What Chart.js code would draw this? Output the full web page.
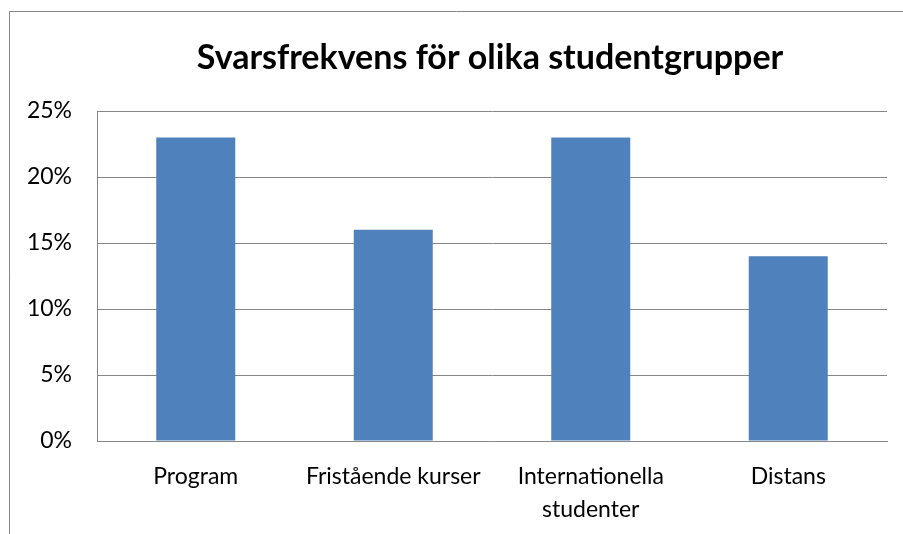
<!DOCTYPE html>
<html>
<head>
<meta charset="utf-8">
<script src="https://cdn.jsdelivr.net/npm/chart.js@4"></script>
<style>
html,body{margin:0;padding:0;background:#fff;}
#wrap{width:903px;height:534px;position:relative;}
</style>
</head>
<body>
<div id="wrap"><canvas id="c" width="903" height="534"></canvas></div>
<script>
const categories = ["Program", "Fristående kurser", ["Internationella", "studenter"], "Distans"];
const values = [23, 16, 23, 14];
const yTicks = [0, 5, 10, 15, 20, 25];
const titleText = "Svarsfrekvens för olika studentgrupper";

const frame = {
  id: 'frame',
  beforeDraw(chart) {
    const ctx = chart.ctx;
    ctx.save();
    ctx.fillStyle = '#fff';
    ctx.fillRect(0, 0, chart.width, chart.height);
    ctx.strokeStyle = '#868686';
    ctx.lineWidth = 1;
    ctx.beginPath();
    ctx.moveTo(9.5, chart.height + 2);
    ctx.lineTo(9.5, 11.5);
    ctx.lineTo(chart.width + 2, 11.5);
    ctx.stroke();
    ctx.restore();
  },
  afterDraw(chart) {
    const ctx = chart.ctx;
    const a = chart.chartArea;
    ctx.save();
    ctx.fillStyle = '#000';
    ctx.font = 'bold 34px Lato';
    ctx.textAlign = 'center';
    ctx.textBaseline = 'middle';
    ctx.fillText(titleText, (a.left + a.right) / 2 - 2, 58);
    ctx.restore();
  }
};

new Chart(document.getElementById('c'), {
  type: 'bar',
  data: {
    labels: categories,
    datasets: [{
      data: values,
      backgroundColor: '#4F81BD',
      borderWidth: 0,
      barPercentage: 0.4,
      categoryPercentage: 1
    }]
  },
  options: {
    responsive: false,
    animation: false,
    layout: { padding: { left: 0, right: 16, top: 111, bottom: 0 } },
    plugins: {
      legend: { display: false },
      tooltip: { enabled: false },
      title: { display: false }
    },
    scales: {
      x: {
        grid: { display: false, drawTicks: false },
        border: { display: true, color: '#868686', width: 1 },
        ticks: {
          color: '#000',
          font: { family: 'Lato', size: 23, lineHeight: 1.43 },
          padding: 19,
          maxRotation: 0,
          autoSkip: false
        },
        afterFit(s) { s.height = 93; }
      },
      y: {
        min: 0,
        max: 25,
        afterBuildTicks(s) { s.ticks = yTicks.map(v => ({ value: v })); },
        grid: { color: '#868686', drawTicks: false, lineWidth: 1 },
        border: { display: true, color: '#868686', width: 1 },
        ticks: {
          color: '#000',
          font: { family: 'Lato', size: 23 },
          padding: 25,
          callback: v => v + '%'
        },
        afterFit(s) { s.width = 97; }
      }
    }
  },
  plugins: [frame]
});
</script>
</body>
</html>
